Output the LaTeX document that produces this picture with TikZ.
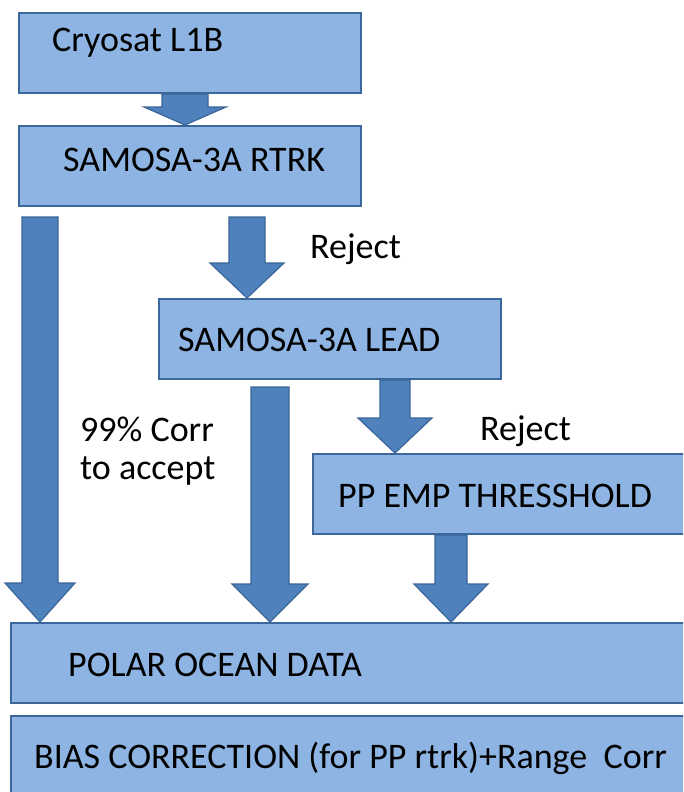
\documentclass[tikz,border=0pt]{standalone}
\usepackage{fontspec}
\setmainfont{Carlito}
\usetikzlibrary{calc}

\definecolor{boxfill}{HTML}{8DB4E2}
\definecolor{boxedge}{HTML}{3C679A}
\definecolor{arrfill}{HTML}{4F81BD}
\definecolor{arredge}{HTML}{3A6699}

\tikzset{
  box/.style={rectangle, draw=boxedge, line width=2pt, fill=boxfill,
    anchor=north west, minimum height=80pt, inner sep=0pt},
  barrow/.style={draw=arredge, fill=arrfill, line width=1.2pt, line join=miter},
  txt/.style={anchor=base west, inner sep=0pt, align=left,
    font=\fontsize{36}{38}\selectfont}
}

% Block arrow from the bottom of node #1 to the top of node #2.
% #3 centre x, #4 half shaft width, #5 half head width,
% #6 gap below the source, #7 head length.
\newcommand\blockarrow[7]{%
  \draw[barrow] let \p1=(#1.south), \p2=(#2.north) in
    (#3-#4,\y1-#6) -- (#3+#4,\y1-#6) -- (#3+#4,\y2+#7) -- (#3+#5,\y2+#7)
    -- (#3,\y2) -- (#3-#5,\y2+#7) -- (#3-#4,\y2+#7) -- cycle;}

\begin{document}
\begin{tikzpicture}[x=1pt, y=-1pt]
  \useasboundingbox (0,0) rectangle (683,792);
  \fill[white] (0,0) rectangle (683,792);
  \clip (0,0) rectangle (683,792);

  % process boxes
  \node[box, minimum width=342pt] (l1b)  at (18,12)  {};
  \node[box, minimum width=342pt] (rtrk) at (18,125) {};
  \node[box, minimum width=342pt] (lead) at (158,298) {};
  \node[box, minimum width=400pt] (emp)  at (312,453) {};
  \node[box, minimum width=700pt] (ocean) at (10,622) {};
  \node[box, minimum width=700pt, minimum height=86pt] (bias) at (10,715) {};

  % box captions
  \node[txt] (tl1b)  at (52,52)   {Cryosat L1B};
  \node[txt] (trtrk) at (63,171)  {SAMOSA-3A RTRK};
  \node[txt] (tlead) at (178,351) {SAMOSA-3A LEAD};
  \node[txt] (temp)  at (338,507) {PP EMP THRESSHOLD};
  \node[txt] (tocean) at (68,676) {POLAR OCEAN DATA};
  \node[txt] (tbias) at (34,768)  {BIAS CORRECTION (for PP rtrk)+Range\ \ Corr};

  % flow arrows
  \blockarrow{l1b}{rtrk}{185}{23}{41}{0}{18}
  \blockarrow{rtrk}{ocean}{40}{18}{35}{10}{39}
  \blockarrow{rtrk}{lead}{247}{18}{37}{10}{35}
  \blockarrow{lead}{emp}{395}{15}{37}{0}{35}
  \blockarrow{lead}{ocean}{270}{19}{38}{7}{38}
  \blockarrow{emp}{ocean}{451}{16}{37}{0}{38}

  % annotations
  \node[txt] (rej1) at (310,258) {Reject};
  \node[txt] (rej2) at (480,440) {Reject};
  \node[txt] (corr) at (80,479)  {99\% Corr\\to accept};
\end{tikzpicture}
\end{document}
